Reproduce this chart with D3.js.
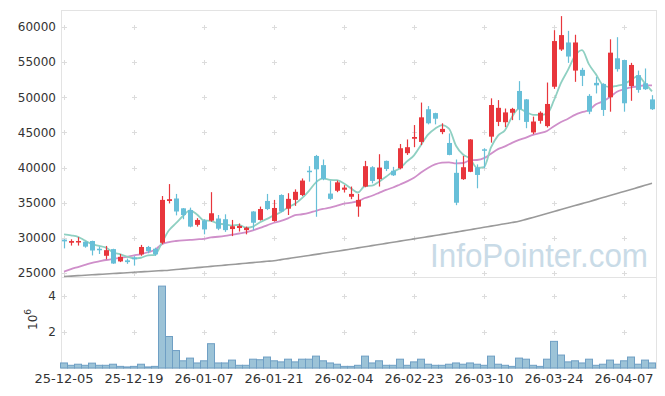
<!DOCTYPE html>
<html><head><meta charset="utf-8">
<script src="https://cdn.jsdelivr.net/npm/d3@7"></script>
<style>
body{margin:0;background:#fff;}
svg{display:block;font-family:"DejaVu Sans",Verdana,sans-serif;}
</style>
</head><body><svg id="c" width="665" height="396"></svg>
<script>
const dates = [
"25-12-05","25-12-08","25-12-09","25-12-10","25-12-11","25-12-12","25-12-15","25-12-16","25-12-17","25-12-18",
"25-12-19","25-12-22","25-12-23","25-12-24","25-12-26","25-12-29","25-12-30","26-01-02","26-01-05","26-01-06",
"26-01-07","26-01-08","26-01-09","26-01-12","26-01-13","26-01-14","26-01-15","26-01-16","26-01-19","26-01-20",
"26-01-21","26-01-22","26-01-23","26-01-26","26-01-27","26-01-28","26-01-29","26-01-30","26-02-02","26-02-03",
"26-02-04","26-02-05","26-02-06","26-02-09","26-02-10","26-02-11","26-02-12","26-02-13","26-02-19","26-02-20",
"26-02-23","26-02-24","26-02-25","26-02-26","26-02-27","26-03-03","26-03-04","26-03-05","26-03-06","26-03-09",
"26-03-10","26-03-11","26-03-12","26-03-13","26-03-16","26-03-17","26-03-18","26-03-19","26-03-20","26-03-23",
"26-03-24","26-03-25","26-03-26","26-03-27","26-03-30","26-03-31","26-04-01","26-04-02","26-04-03","26-04-06",
"26-04-07","26-04-08","26-04-09","26-04-10","26-04-13"];

const open = [
29750,29300,29350,29450,29550,28450,27450,28400,26650,26800,
27200,27650,28700,28450,29300,35250,35600,34200,33950,31850,
32450,32450,32750,32650,31250,31400,31100,33750,32550,35250,
32400,36100,34150,35400,36100,39550,41650,40350,36300,36700,
36850,35850,34450,37300,40050,38350,40950,39550,39900,42050,
44100,43650,48300,47750,45050,43500,39250,38350,39400,40000,
42600,44400,46500,46450,47800,50900,49700,45000,46650,45900,
51500,56800,57800,53800,53900,50200,52050,51900,50000,55550,
55300,51600,53150,52000,49700];
const high = [
29800,29800,30100,29500,29600,28750,28850,28450,27700,27050,
27400,29000,28850,28600,35950,37650,36250,34250,34300,32800,
32650,36500,33250,33350,32550,32050,31600,33800,34450,36250,
35400,36200,36350,36900,38450,40200,41800,41150,38150,38150,
37500,37300,36250,40950,40200,41900,41000,40100,43350,44000,
46050,49250,48750,47800,46300,44850,41150,41650,44050,40450,
42750,49850,49600,48400,48500,52300,49750,47250,48000,52100,
59550,61550,59450,58900,54200,50450,52900,52000,58250,58550,
55350,54900,53800,54100,50300];
const low = [
28500,28900,28900,28600,27500,27700,26950,26300,26550,26300,
26050,27450,27800,27450,29100,34900,33200,32650,31500,31600,
30500,32300,31100,30850,30250,30900,30500,31100,32450,33950,
32300,33650,33250,34550,35950,38000,33000,38200,35400,36500,
36450,35500,33000,37200,37750,37300,39500,38800,39750,41800,
42900,43200,46150,46150,44750,41750,34650,38250,39350,37050,
39900,43550,45900,45750,46750,46750,45600,44750,46250,45700,
51200,56600,54900,52200,51600,47600,50550,47350,47950,53650,
47950,49500,50650,51050,48200];
const close = [
29500,29550,29550,28750,28200,28250,28250,26350,27300,26550,
26950,28700,28100,27650,35400,35500,33750,33250,31600,32550,
31200,33500,31300,31100,31650,31700,31450,32150,34100,34100,
34250,33750,35550,36550,38150,39450,39750,38350,35550,37900,
37150,36250,35400,40200,38100,40000,39800,38900,42750,42900,
44350,47150,46300,46950,45500,41800,35000,40050,44000,38950,
42400,48900,48500,47850,48350,48300,46500,46550,47800,49050,
58000,58850,55800,57800,53050,47950,51700,48200,56350,54000,
49150,54600,51050,51150,48300];
const volume = [
280000,150000,210000,150000,270000,150000,150000,210000,90000,60000,
90000,210000,60000,90000,4550000,1750000,970000,400000,550000,280000,
400000,1350000,280000,280000,440000,150000,150000,490000,460000,610000,
400000,340000,490000,340000,490000,490000,660000,400000,280000,210000,
90000,90000,150000,660000,280000,400000,150000,150000,490000,150000,
340000,490000,210000,150000,150000,210000,280000,210000,280000,210000,
150000,660000,210000,150000,90000,550000,490000,150000,90000,490000,
1480000,720000,340000,400000,280000,490000,150000,210000,440000,210000,
400000,610000,210000,440000,280000];
const ma5 = [
30500,30350,30150,29600,29110,28860,28600,27960,27670,27340,
27080,27170,27520,27590,29360,31070,32080,33110,33900,33330,
32470,32420,32030,31930,31750,31850,31440,31610,32210,32700,
33210,33670,34350,34840,35650,36690,37890,38450,38250,38200,
37740,37040,36450,37380,37420,37990,38700,39400,39910,40870,
41740,43210,44690,45530,46050,45540,43110,41860,41270,39960,
40080,42860,44550,45320,47200,48380,47900,47510,47500,47640,
49580,52050,53900,55900,56700,54690,53260,51740,51450,51640,
51880,52460,53030,51990,50850];
const ma20 = [
25200,25550,25850,26150,26450,26650,26850,27000,27150,27300,
27500,27700,27950,28300,29100,29400,29550,29650,29700,29785,
29870,30068,30155,30273,30445,30618,30778,31068,31408,31785,
32150,32403,32775,33220,33358,33555,33855,34110,34308,34575,
34873,35010,35215,35670,35993,36408,36825,37163,37595,38035,
38540,39300,39950,40450,40700,40753,40600,40650,41023,41075,
41338,41970,42625,43008,43520,43935,44270,44653,44905,45213,
45895,46480,46955,47498,47875,48183,49018,49425,50043,50795,
51133,51418,51545,51710,51708];
const ma120 = [
24500,24560,24620,24680,24740,24800,24860,24920,24980,25040,
25100,25160,25220,25280,25340,25400,25490,25580,25670,25760,
25850,25940,26030,26120,26210,26300,26390,26480,26570,26660,
26750,26900,27050,27200,27350,27500,27650,27800,27950,28100,
28250,28410,28570,28730,28890,29050,29210,29370,29530,29690,
29850,30010,30170,30330,30490,30650,30820,30990,31160,31330,
31500,31670,31840,32010,32180,32350,32630,32910,33190,33470,
33750,34030,34310,34590,34870,35150,35440,35730,36020,36310,
36600,36890,37180,37470,37760];
const xTickLabels = ["25-12-05","25-12-19","26-01-07","26-01-21","26-02-04","26-02-23","26-03-10","26-03-24","26-04-07"];
const priceTicks = [25000,30000,35000,40000,45000,50000,55000,60000];
const volTicks = [2000000,4000000];

const UP = "#e8363c", DOWN = "#67bfd8";
const svg = d3.select("#c");
const x = d3.scaleBand().domain(dates).range([60.5,655.5]).padding(0);
const cx = d => Math.round(x(d) + x.bandwidth()/2);
const y = d3.scaleLinear().domain([24430,62420]).range([277,10]);
const yv = d3.scaleLinear().domain([0,5000000]).range([368,278]);

// grid crosses
const gridG = svg.append("g").attr("stroke","#dcdcdc").attr("stroke-width",1);
function cross(px,py){
  gridG.append("line").attr("x1",px-2.5).attr("x2",px+2.5).attr("y1",py).attr("y2",py);
  gridG.append("line").attr("x1",px).attr("x2",px).attr("y1",py-2.5).attr("y2",py+2.5);
}
xTickLabels.forEach(d=>{
  const px = cx(d)+0.5;
  priceTicks.forEach(v=>cross(px, Math.round(y(v))+0.5));
  volTicks.forEach(v=>cross(px, Math.round(yv(v))+0.5));
});

// watermark
svg.append("text").attr("x",430).attr("y",267)
  .attr("font-family","'Liberation Sans',Arial,sans-serif").attr("font-size",33)
  .attr("fill","#c9dbe7").attr("textLength",218).attr("lengthAdjust","spacingAndGlyphs")
  .text("InfoPointer.com");

// frame
const frame = svg.append("g").attr("stroke","#e3e3e3").attr("stroke-width",1).attr("fill","none");
frame.append("line").attr("x1",61).attr("x2",657).attr("y1",10.5).attr("y2",10.5);
frame.append("line").attr("x1",656.5).attr("x2",656.5).attr("y1",10).attr("y2",369);
frame.append("line").attr("x1",61).attr("x2",657).attr("y1",277.5).attr("y2",277.5);
frame.append("line").attr("x1",61.5).attr("x2",61.5).attr("y1",10).attr("y2",369);
frame.append("line").attr("x1",61).attr("x2",657).attr("y1",368.5).attr("y2",368.5);

// MA lines
const idx = d3.range(dates.length);
function maLine(arr,color,w){
  svg.append("path").datum(idx)
    .attr("fill","none").attr("stroke",color).attr("stroke-width",w)
    .attr("stroke-linejoin","round")
    .attr("d", d3.line().x(i=>x(dates[i])+x.bandwidth()/2).y(i=>y(arr[i])).curve(d3.curveMonotoneX));
}
maLine(ma120,"#9a9a9a",1.6);
maLine(ma20,"#cf8fca",1.8);
maLine(ma5,"#8fd0c2",1.8);

// candles
const cg = svg.append("g");
idx.forEach(i=>{
  const d = dates[i], c = close[i] >= open[i] ? UP : DOWN;
  const px = cx(d);
  cg.append("line").attr("x1",px+0.5).attr("x2",px+0.5)
    .attr("y1",y(high[i])).attr("y2",y(low[i])).attr("stroke",c).attr("stroke-width",1.2);
  const top = Math.min(y(open[i]),y(close[i])), h = Math.abs(y(open[i])-y(close[i]));
  cg.append("rect").attr("x",px-2).attr("width",5)
    .attr("y",top).attr("height",Math.max(1.5,h)).attr("fill",c);
});

// volume bars
svg.append("g").selectAll("rect").data(idx).join("rect")
  .attr("x",i=>x(dates[i])).attr("width",x.bandwidth())
  .attr("y",i=>yv(volume[i])).attr("height",i=>yv(0)-yv(volume[i]))
  .attr("fill","#9cc3d7").attr("stroke","#6f9fc4").attr("stroke-width",1);

// axes
const yAxis = svg.append("g").attr("transform","translate(61,0)")
  .call(d3.axisLeft(y).tickValues(priceTicks).tickFormat(d3.format("d")).tickSize(0).tickPadding(5));
yAxis.select(".domain").remove();
yAxis.selectAll("text").attr("font-size",12).attr("fill","#333").attr("font-family","'DejaVu Sans',sans-serif");

const vAxis = svg.append("g").attr("transform","translate(61,0)")
  .call(d3.axisLeft(yv).tickValues(volTicks).tickFormat(d=>d/1e6).tickSize(0).tickPadding(5));
vAxis.select(".domain").remove();
vAxis.selectAll("text").attr("font-size",12).attr("fill","#333").attr("font-family","'DejaVu Sans',sans-serif");

const xAxis = svg.append("g").attr("transform","translate(0,368)")
  .call(d3.axisBottom(x).tickValues(xTickLabels).tickSize(0).tickPadding(6));
xAxis.select(".domain").remove();
xAxis.selectAll("text").attr("font-size",13).attr("fill","#333").attr("font-family","'DejaVu Sans',sans-serif");

// 10^6 label
const lab = svg.append("text").attr("transform","translate(37,330) rotate(-90)")
  .attr("font-size",12).attr("fill","#333").attr("font-family","'DejaVu Sans',sans-serif");
lab.append("tspan").text("10");
lab.append("tspan").attr("font-size",9).attr("dy",-6).text("6");
</script>
</body></html>
